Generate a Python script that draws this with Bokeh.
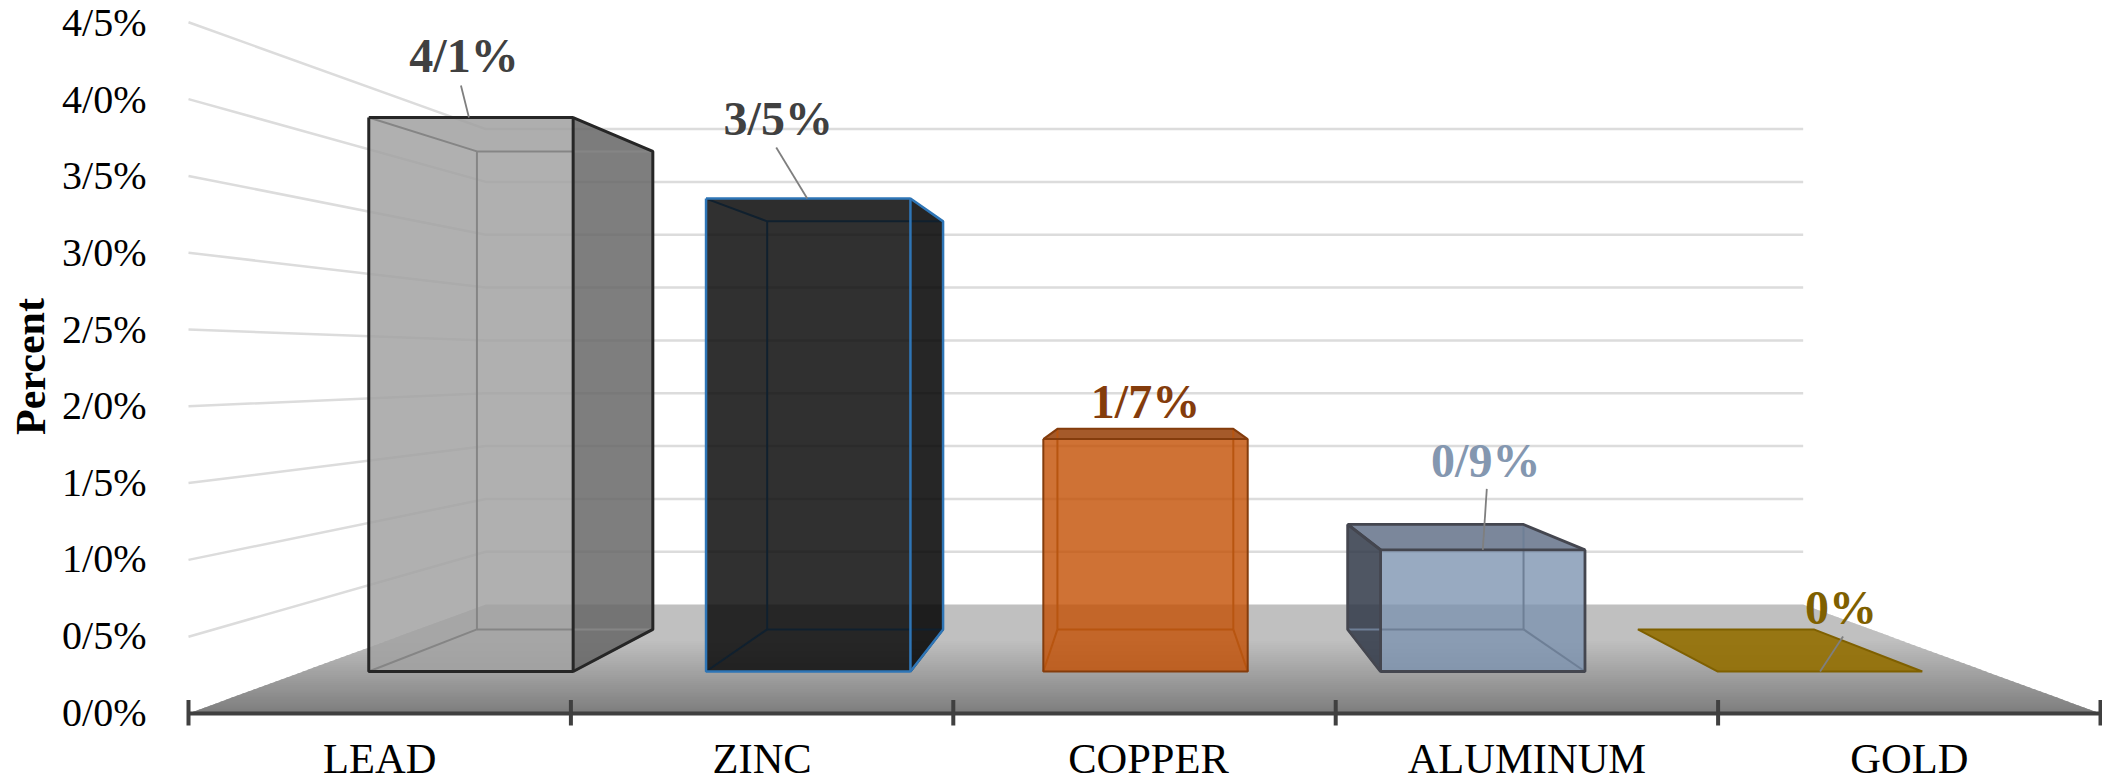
from bokeh.plotting import figure
from bokeh.models import Range1d
from bokeh.core.properties import value
from bokeh.embed import file_html
from bokeh.resources import INLINE

# ---- data ----
categories = ["LEAD", "ZINC", "COPPER", "ALUMINUM", "GOLD"]
percent_values = [4.1, 3.5, 1.72, 0.9, 0.0]
value_labels = ["4/1%", "3/5%", "1/7%", "0/9%", "0%"]
axis_values = [0.0, 0.5, 1.0, 1.5, 2.0, 2.5, 3.0, 3.5, 4.0, 4.5]
axis_labels = ["0/0%", "0/5%", "1/0%", "1/5%", "2/0%", "2/5%", "3/0%", "3/5%", "4/0%", "4/5%"]
axis_title = "Percent"

# ---- styles ----
FONT = value("Liberation Serif")
GRID = "#dcdcdc"
AXIS = "#404040"
front_col = ["#a1a1a1", "#080808", "#c34f02", "#7b92b0", "#926e00"]
front_a = [0.84, 0.84, 0.80, 0.78, 0.90]
side_col = ["#656565", "#000000", "#953d05", "#303848", "#926e00"]
side_a = [0.84, 0.85, 0.85, 0.85, 0.90]
top_col = ["#6a6a6a", "#1a1a1a", "#953d05", "#647289", "#926e00"]
top_a = [0.10, 0.10, 0.85, 0.85, 0.90]
edge_col = ["#262626", "#2e75b6", "#843c0c", "#44464f", "#7f6000"]
edge_w = [3.0, 2.5, 2.0, 2.8, 2.0]
inner_col = ["#858585", "#10202e", "#b85510", "#6e7f96", "#7f6000"]
label_col = ["#404040", "#404040", "#843c0c", "#8497b0", "#7f6000"]
# label centre and leader line relative to the top-centre of each bar's front face
label_dx = [-7, -30, 0, 3, 21]
label_dy = [-62, -80, -38, -89, -64]
leader = [(-10, -32, -2, 0), (-32, -51, -1, 0), None, (4, -61, 0, 0), (23, -35, 0, 0)]
cat_dx = [0, 0, 4, 0, 0]

# ---- projection: u in categories, h in percent, plane = wall/bar depth ----
VX, VY = 1144.0, 364.0
AX0, AXSTEP, AXY, HSCALE = 188.0, 382.4, 713.0, 153.6
SX = {"axis": 1.0, "front": 0.882, "back": 0.759, "wall": 0.689}
SY = {"axis": 1.0, "front": 0.8797, "back": 0.759, "wall": 0.688}
BAR_U0, BAR_U1 = 0.2, 0.806


def px(u, plane):
    return VX + (AX0 + AXSTEP * u - VX) * SX[plane]


def py(h, plane):
    return VY + (AXY - HSCALE * h - VY) * SY[plane]


p = figure(width=2102, height=782, output_backend="svg", toolbar_location=None,
           x_range=Range1d(0, 2102), y_range=Range1d(782, 0),
           x_axis_type=None, y_axis_type=None, min_border=0,
           outline_line_color=None)
p.grid.visible = False
p.background_fill_color = "#ffffff"

n_cat = len(categories)

# gridlines: left wall + back wall
for v in axis_values[1:]:
    p.line([px(0, "axis"), px(0, "wall"), px(n_cat, "wall")],
           [py(v, "axis"), py(v, "wall"), py(v, "wall")],
           line_color=GRID, line_width=2.5)

# floor with a vertical gradient
y_back, y_front = py(0, "wall"), py(0, "axis")
STRIPS = 54
fx, fy = [], []
cols = []
for i in range(STRIPS):
    t0, t1 = i / STRIPS, min(1.0, (i + 1.6) / STRIPS)
    ya, yb = y_back + (y_front - y_back) * t0, y_back + (y_front - y_back) * t1
    la = px(0, "wall") + (px(0, "axis") - px(0, "wall")) * t0
    lb = px(0, "wall") + (px(0, "axis") - px(0, "wall")) * t1
    ra = px(n_cat, "wall") + (px(n_cat, "axis") - px(n_cat, "wall")) * t0
    rb = px(n_cat, "wall") + (px(n_cat, "axis") - px(n_cat, "wall")) * t1
    fx.append([la, ra, rb, lb])
    fy.append([ya, ya, yb, yb])
    g = 192 if t0 < 0.32 else int(192 - (192 - 124) * (t0 - 0.32) / 0.68)
    cols.append(f"#{g:02x}{g:02x}{g:02x}")
p.patches(fx, fy, fill_color=cols, line_color=None)

# bars
for i, v in enumerate(percent_values):
    u0, u1 = i + BAR_U0, i + BAR_U1
    fl, fr, bl, br = px(u0, "front"), px(u1, "front"), px(u0, "back"), px(u1, "back")
    fb, ft, bb, bt = py(0, "front"), py(v, "front"), py(0, "back"), py(v, "back")
    strong, weak = [], []
    if v == 0:
        p.patch([fl, fr, br, bl], [fb, fb, bb, bb], fill_color=top_col[i], fill_alpha=top_a[i],
                line_color=edge_col[i], line_width=edge_w[i])
    else:
        # inner edges of the box, seen through the faces
        right_out = br > fr
        left_out = bl < fl
        top_out = bt < ft
        weak.append(([bl, br], [bb, bb]))
        weak.append(([fl, bl], [fb, bb]))
        weak.append(([fr, br], [fb, bb]))
        # faces that show outside the front
        if right_out:
            p.patch([fr, br, br, fr], [ft, bt, bb, fb], fill_color=side_col[i], fill_alpha=side_a[i], line_color=None)
            strong += [([fr, br, br, fr], [ft, bt, bb, fb])]
            weak.append(([bl, bl], [bt, bb]))
        else:
            weak.append(([br, br], [bt, bb]))
        if left_out:
            p.patch([fl, bl, bl, fl], [ft, bt, bb, fb], fill_color=side_col[i], fill_alpha=side_a[i], line_color=None)
            strong += [([fl, bl, bl, fl], [ft, bt, bb, fb])]
        elif not right_out:
            weak.append(([bl, bl], [bt, bb]))
        p.patch([fl, fr, br, bl], [ft, ft, bt, bt], fill_color=top_col[i], fill_alpha=top_a[i], line_color=None)
        if top_out:
            strong += [([fl, bl, br, fr], [ft, bt, bt, ft])]
        else:
            weak += [([fl, bl, br], [ft, bt, bt])]
        p.quad(left=fl, right=fr, top=ft, bottom=fb, fill_color=front_col[i], fill_alpha=front_a[i], line_color=None)
        for xs, ys in weak:
            p.line(xs, ys, line_color=inner_col[i], line_width=2)
        for xs, ys in strong:
            p.line(xs, ys, line_color=edge_col[i], line_width=edge_w[i])
        p.line([fl, fr, fr, fl, fl], [ft, ft, fb, fb, ft], line_color=edge_col[i], line_width=edge_w[i])

    # label and leader line
    cx = (fl + fr) / 2
    base = ft if v else fb
    if leader[i]:
        dx0, dy0, dx1, dy1 = leader[i]
        p.line([cx + dx0, cx + dx1], [base + dy0, base + dy1], line_color="#7f7f7f", line_width=1.8)
    p.text([cx + label_dx[i]], [base + label_dy[i]], text=[value_labels[i]], text_font=FONT, text_font_size="48px",
           text_font_style="bold", text_color=label_col[i], text_align="center", text_baseline="middle")

# category axis
p.line([px(0, "axis"), px(n_cat, "axis")], [AXY, AXY], line_color=AXIS, line_width=4)
p.segment([px(k, "axis") for k in range(n_cat + 1)], [AXY - 13.5] * (n_cat + 1),
          [px(k, "axis") for k in range(n_cat + 1)], [AXY + 12] * (n_cat + 1),
          line_color=AXIS, line_width=4)
p.text([px(k + 0.5, "axis") + cat_dx[k] for k in range(n_cat)], [AXY + 45] * n_cat, text=categories,
       text_font=FONT, text_font_size="42.5px", text_color="#000000", text_align="center", text_baseline="middle")

# value axis labels
p.text([146] * len(axis_values), [AXY - 1.5 - 153.2 * v for v in axis_values], text=axis_labels,
       text_font=FONT, text_font_size="40px", text_color="#000000", text_align="right", text_baseline="middle")
p.text([30], [366], text=[axis_title], text_font=FONT, text_font_size="42px", text_font_style="bold",
       text_color="#000000", text_align="center", text_baseline="middle", angle=1.5708)

open("out.html", "w").write(file_html(p, INLINE))
